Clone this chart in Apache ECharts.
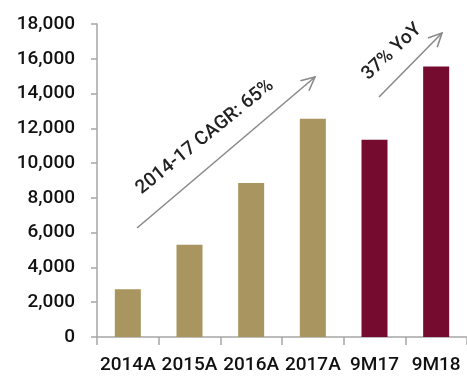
<!DOCTYPE html>
<html>
<head>
<meta charset="utf-8">
<script src="https://cdn.jsdelivr.net/npm/echarts@6/dist/echarts.min.js"></script>
<style>
  html, body { margin: 0; padding: 0; background: #fff; }
  #chart { width: 467px; height: 381px; }
</style>
</head>
<body>
<div id="chart"></div>
<script>
const categories = ['2014A', '2015A', '2016A', '2017A', '9M17', '9M18']
const values = [2750, 5300, 8850, 12550, 11350, 15550]
const yTicks = [0, 2000, 4000, 6000, 8000, 10000, 12000, 14000, 16000, 18000]

const GOLD = '#a8955f'
const MAROON = '#760b30'
const FONT = 'Roboto'

const chart = echarts.init(document.getElementById('chart'))

// arrow helper for the two growth annotations
const arrow = (x1, y1, x2, y2) => {
  const a = Math.atan2(y2 - y1, x2 - x1)
  const h = 15, s = 0.45
  return [
    {
      type: 'line',
      shape: {x1, y1, x2, y2},
      style: {stroke: '#8a8a8a', lineWidth: 1.6}
    },
    {
      type: 'polyline',
      shape: {
        points: [
          [x2 - h * Math.cos(a - s), y2 - h * Math.sin(a - s)],
          [x2, y2],
          [x2 - h * Math.cos(a + s), y2 - h * Math.sin(a + s)]
        ]
      },
      style: {stroke: '#8a8a8a', lineWidth: 1.6, fill: null}
    }
  ]
}

let option = {
  animation: false,
  grid: {
    left: 97,
    right: -8,
    top: 24,
    bottom: 44
  },
  xAxis: {
    type: 'category',
    data: categories,
    axisLine: {lineStyle: {color: '#a6a6a6', width: 1.5}},
    axisTick: {show: true, length: 8, lineStyle: {color: '#a6a6a6', width: 1.5}},
    axisLabel: {
      color: '#111',
      fontSize: 19,
      fontWeight: 500,
      fontFamily: FONT,
      margin: 19,
      interval: 0
    }
  },
  yAxis: {
    type: 'value',
    min: yTicks[0],
    max: yTicks[yTicks.length - 1],
    interval: 2000,
    axisLine: {show: true, lineStyle: {color: '#a6a6a6', width: 1.5}},
    axisTick: {show: true, length: 6, lineStyle: {color: '#a6a6a6', width: 1.5}},
    splitLine: {show: false},
    axisLabel: {
      color: '#111',
      fontSize: 19,
      fontWeight: 500,
      fontFamily: FONT,
      margin: 22,
      formatter: (v) => v.toLocaleString('en-US')
    }
  },
  series: [
    {
      type: 'bar',
      barWidth: 26,
      data: values.map((v, i) => ({
        value: v,
        itemStyle: {color: categories[i].startsWith('9M') ? MAROON : GOLD}
      }))
    }
  ],
  graphic: [
    ...arrow(137, 228, 315, 77),
    ...arrow(379, 97, 442, 33),
    {
      type: 'text',
      x: 205,
      y: 137,
      rotation: 39 * Math.PI / 180,
      style: {
        text: '2014-17 CAGR: 65%',
        font: '500 19px Roboto',
        fill: '#222',
        align: 'center',
        verticalAlign: 'middle'
      }
    },
    {
      type: 'text',
      x: 392,
      y: 52,
      rotation: 43 * Math.PI / 180,
      style: {
        text: '37% YoY',
        font: '500 19px Roboto',
        fill: '#222',
        align: 'center',
        verticalAlign: 'middle'
      }
    }
  ]
}

chart.setOption(option)
</script>
</body>
</html>
